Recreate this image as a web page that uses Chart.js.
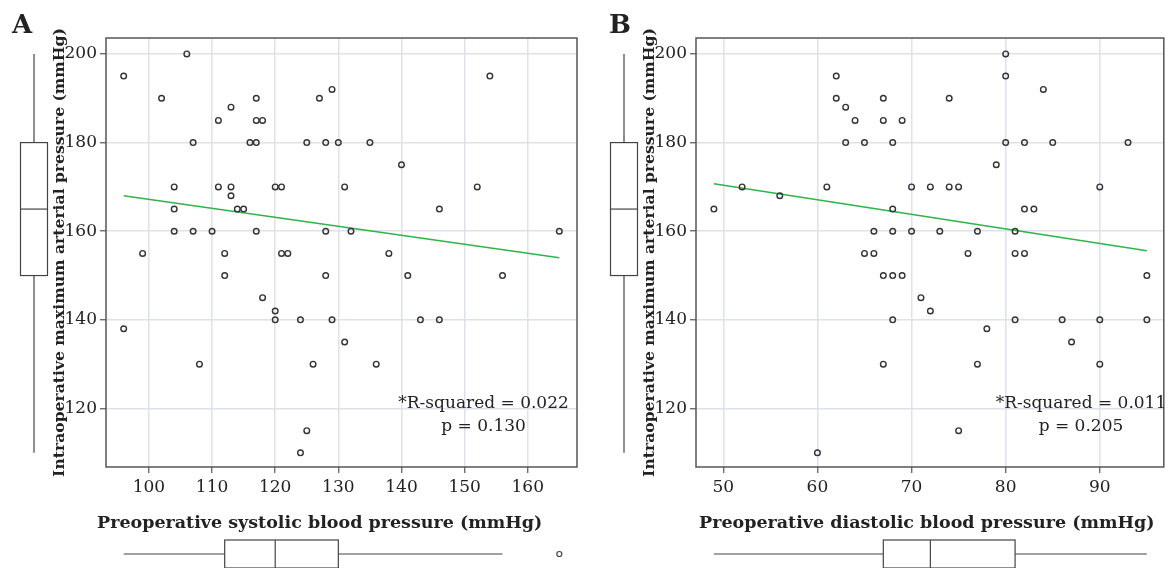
<!DOCTYPE html>
<html lang="en">
<head>
<meta charset="UTF-8">
<title>Preoperative BP vs intraoperative maximum arterial pressure</title>
<script src="https://cdn.jsdelivr.net/npm/chart.js"></script>
<style>
  html, body { margin: 0; padding: 0; background: #fff; }
  body { width: 1168px; height: 568px; position: relative; overflow: hidden; }
  .panel { position: absolute; top: 0; }
  #panelA { left: 0; }
  #panelB { left: 590px; }
</style>
</head>
<body>
<div class="panel" id="panelA"><canvas id="chartA" width="584" height="568"></canvas></div>
<div class="panel" id="panelB"><canvas id="chartB" width="578" height="568"></canvas></div>
<script>
// panel A: systolic vs max arterial pressure
const sbp = [96,106,102,113,111,117,117,118,107,116,117,125,127,129,128,130,135,104,111,113,113,120,121,131,104,114,115,104,107,110,117,128,132,154,140,152,146,165,99,112,112,121,122,128,138,118,120,120,124,129,96,131,108,126,136,125,124,141,156,143,146];
const mapA = [195,200,190,188,185,190,185,185,180,180,180,180,190,192,180,180,180,170,170,170,168,170,170,170,165,165,165,160,160,160,160,160,160,195,175,170,165,160,155,155,150,155,155,150,155,145,142,140,140,140,138,135,130,130,130,115,110,150,150,140,140];
const fitSbpX = [96, 165];
const fitSbpY = [168, 154];

// panel B: diastolic vs max arterial pressure
const dbp = [49,52,56,61,62,62,63,64,63,65,67,67,69,68,70,68,66,68,70,72,74,74,75,73,77,81,79,80,80,84,80,82,85,93,90,82,83,65,66,67,68,69,68,67,60,71,72,76,81,82,78,77,75,81,86,90,95,87,90,95];
const mapB = [165,170,168,170,195,190,188,185,180,180,190,185,185,180,170,165,160,160,160,170,190,170,170,160,160,160,175,200,195,192,180,180,180,180,170,165,165,155,155,150,150,150,140,130,110,145,142,155,155,155,138,130,115,140,140,140,140,135,130,150];
const fitDbpX = [49, 95];
const fitDbpY = [170.7, 155.6];

// marginal box plots: [low whisker, q1, median, q3, high whisker]
const mapBox = [110, 150, 165, 180, 200];
const sbpBox = [96, 112, 120, 130, 156];
const sbpOutliers = [165];
const dbpBox = [49, 67, 72, 81, 95];
const dbpOutliers = [];

const yTicks = [120, 140, 160, 180, 200];
const xTicksA = [100, 110, 120, 130, 140, 150, 160];
const xTicksB = [50, 60, 70, 80, 90];

const yTitle = 'Intraoperative maximum arterial pressure (mmHg)';
const xTitleA = 'Preoperative systolic blood pressure (mmHg)';
const xTitleB = 'Preoperative diastolic blood pressure (mmHg)';
const statsA = ['*R-squared = 0.022', 'p = 0.130'];
const statsB = ['*R-squared = 0.011', 'p = 0.205'];

const SERIF = '"DejaVu Serif", "Liberation Serif", serif';
const INK = '#222';
const FRAME = '#555';
const GRID = '#dde1e9';

function toPoints(xs, ys) {
    return xs.map((x, i) => ({ x: x, y: ys[i] }));
}

// frame, marginal boxplots, x title, panel letter and stats text
const extras = {
    id: 'extras',
    afterDraw(chart, args, opts) {
        const ctx = chart.ctx;
        const a = chart.chartArea;
        const xs = chart.scales.x, ys = chart.scales.y;
        ctx.save();

        // plot frame
        ctx.strokeStyle = FRAME;
        ctx.lineWidth = 1.5;
        ctx.strokeRect(a.left, a.top, a.right - a.left, a.bottom - a.top);

        ctx.strokeStyle = '#444';
        ctx.lineWidth = 1.2;

        // vertical boxplot on the left
        const bx = 34, bw = 27;
        const yb = opts.yBox.map(v => ys.getPixelForValue(v));
        ctx.beginPath();
        ctx.moveTo(bx, yb[0]); ctx.lineTo(bx, yb[1]);
        ctx.moveTo(bx, yb[3]); ctx.lineTo(bx, yb[4]);
        ctx.stroke();
        ctx.strokeRect(bx - bw / 2, yb[3], bw, yb[1] - yb[3]);
        ctx.beginPath();
        ctx.moveTo(bx - bw / 2, yb[2]); ctx.lineTo(bx + bw / 2, yb[2]);
        ctx.stroke();

        // horizontal boxplot at the bottom
        const by = a.bottom + 87, bh = 28;
        const xb = opts.xBox.map(v => xs.getPixelForValue(v));
        ctx.beginPath();
        ctx.moveTo(xb[0], by); ctx.lineTo(xb[1], by);
        ctx.moveTo(xb[3], by); ctx.lineTo(xb[4], by);
        ctx.stroke();
        ctx.strokeRect(xb[1], by - bh / 2, xb[3] - xb[1], bh);
        ctx.beginPath();
        ctx.moveTo(xb[2], by - bh / 2); ctx.lineTo(xb[2], by + bh / 2);
        ctx.stroke();
        opts.xOut.forEach(v => {
            ctx.beginPath();
            ctx.arc(xs.getPixelForValue(v), by, 2.5, 0, Math.PI * 2);
            ctx.stroke();
        });

        // x axis title
        ctx.fillStyle = INK;
        ctx.font = 'bold 17.5px ' + SERIF;
        ctx.textAlign = 'left';
        ctx.textBaseline = 'middle';
        ctx.fillText(opts.xTitle, opts.xTitleLeft, a.bottom + 56);

        // panel letter
        ctx.font = 'bold 26px ' + SERIF;
        ctx.textBaseline = 'alphabetic';
        ctx.fillText(opts.letter, opts.letterX, 33);

        // regression stats
        ctx.font = '17px ' + SERIF;
        ctx.textAlign = 'center';
        ctx.textBaseline = 'middle';
        const sx = xs.getPixelForValue(opts.statX);
        ctx.fillText(opts.stats[0], sx, ys.getPixelForValue(opts.statY[0]));
        ctx.fillText(opts.stats[1], sx, ys.getPixelForValue(opts.statY[1]));

        ctx.restore();
    }
};

function makeChart(id, cfg) {
    const ctx = document.getElementById(id).getContext('2d');
    return new Chart(ctx, {
        type: 'scatter',
        data: {
            datasets: [{
                label: 'Patients',
                data: toPoints(cfg.x, cfg.y),
                pointRadius: 2.8,
                pointHoverRadius: 2.8,
                borderWidth: 1.4,
                borderColor: '#333',
                backgroundColor: 'rgba(0,0,0,0)'
            }, {
                label: 'Fit',
                type: 'line',
                data: toPoints(cfg.fitX, cfg.fitY),
                borderColor: '#2fb44c',
                borderWidth: 1.6,
                pointRadius: 0,
                fill: false
            }]
        },
        options: {
            responsive: false,
            animation: false,
            layout: { padding: { left: 48, right: cfg.padRight, top: 38, bottom: 61 } },
            plugins: {
                legend: { display: false },
                tooltip: { enabled: false },
                extras: {
                    yBox: mapBox, xBox: cfg.xBox, xOut: cfg.xOut,
                    xTitle: cfg.xTitle, xTitleLeft: cfg.xTitleLeft,
                    letter: cfg.letter, letterX: cfg.letterX,
                    stats: cfg.stats, statX: cfg.statX, statY: [121.2, 116.0]
                }
            },
            scales: {
                x: {
                    type: 'linear',
                    min: cfg.xMin, max: cfg.xMax,
                    afterBuildTicks: s => { s.ticks = cfg.xTicks.map(v => ({ value: v })); },
                    afterFit: s => { s.height = 40; },
                    border: { display: false },
                    grid: { color: GRID, lineWidth: 1.5, drawTicks: true, tickLength: 6, tickColor: FRAME, tickWidth: 1.2 },
                    ticks: { color: INK, font: { family: SERIF, size: 17 }, padding: 4, maxRotation: 0 }
                },
                y: {
                    type: 'linear',
                    min: 106.8, max: 203.6,
                    afterBuildTicks: s => { s.ticks = yTicks.map(v => ({ value: v })); },
                    afterFit: s => { s.width = 58; },
                    border: { display: false },
                    grid: { color: GRID, lineWidth: 1.5, drawTicks: true, tickLength: 6, tickColor: FRAME, tickWidth: 1.2 },
                    ticks: { color: INK, font: { family: SERIF, size: 17 }, padding: 3 },
                    title: {
                        display: true, text: yTitle, color: INK,
                        font: { family: SERIF, size: 15.6, weight: 'bold' },
                        padding: { top: 3, bottom: 0 }
                    }
                }
            }
        },
        plugins: [extras]
    });
}

makeChart('chartA', {
    x: sbp, y: mapA, fitX: fitSbpX, fitY: fitSbpY,
    xMin: 93.2, xMax: 167.8, xTicks: xTicksA, padRight: 7,
    xBox: sbpBox, xOut: sbpOutliers, xTitle: xTitleA, xTitleLeft: 97,
    letter: 'A', letterX: 12, stats: statsA, statX: 153
});

makeChart('chartB', {
    x: dbp, y: mapB, fitX: fitDbpX, fitY: fitDbpY,
    xMin: 47.1, xMax: 96.8, xTicks: xTicksB, padRight: 2,
    xBox: dbpBox, xOut: dbpOutliers, xTitle: xTitleB, xTitleLeft: 109,
    letter: 'B', letterX: 19, stats: statsB, statX: 88
});
</script>
</body>
</html>
